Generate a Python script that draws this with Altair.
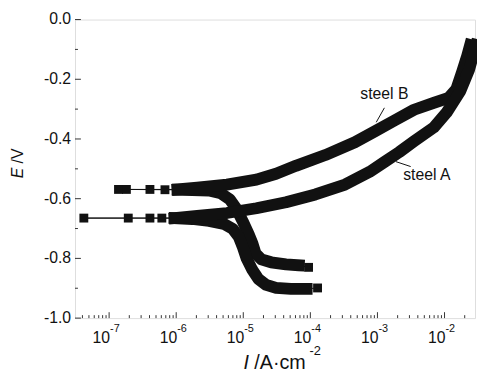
import altair as alt
import pandas as pd

# ---------------- data ----------------
# steel B, in sweep order: cathodic end square, cathodic band, Ecorr squares, anodic band
b_I = [9.41e-5,
       6.71e-5, 4.33e-5, 2.60e-5, 1.86e-5, 1.52e-5, 1.37e-5, 1.20e-5, 9.77e-6, 7.97e-6, 6.29e-6, 4.64e-6, 3.09e-6, 1.74e-6, 1.05e-6,
       6.8e-7, 1.81e-7, 1.38e-7, 4.06e-7,
       1.05e-6, 2.06e-6, 5.69e-6, 1.57e-5, 3.08e-5, 6.07e-5, 1.67e-4, 4.61e-4, 9.06e-4, 1.78e-3, 3.51e-3, 6.89e-3, 1.15e-2, 1.50e-2, 1.84e-2, 2.18e-2, 2.41e-2]
b_E = [-0.830,
       -0.823, -0.820, -0.813, -0.803, -0.783, -0.750, -0.718, -0.675, -0.635, -0.602, -0.582, -0.5725, -0.571, -0.570,
       -0.570, -0.569, -0.569, -0.569,
       -0.569, -0.5626, -0.5527, -0.5363, -0.5165, -0.490, -0.4539, -0.411, -0.3748, -0.3385, -0.3022, -0.2792, -0.2627, -0.233, -0.1737, -0.121, -0.085]
b_seg = ["s"] + ["c"] * 14 + ["s"] * 4 + ["a"] * 17

# steel A
a_I = [1.28e-4,
       8.80e-5, 5.12e-5, 3.08e-5, 2.20e-5, 1.68e-5, 1.37e-5, 1.12e-5, 9.77e-6, 8.53e-6, 6.97e-6, 5.14e-6, 3.09e-6, 1.74e-6, 9.47e-7,
       6.11e-7, 1.93e-7, 4.2e-8, 4.06e-7,
       9.47e-7, 2.06e-6, 5.69e-6, 1.57e-5, 4.33e-5, 1.19e-4, 3.29e-4, 7.66e-4, 1.27e-3, 2.11e-3, 3.51e-3, 6.89e-3, 1.07e-2, 1.72e-2, 2.33e-2, 2.95e-2]
a_E = [-0.899,
       -0.902, -0.902, -0.899, -0.889, -0.869, -0.839, -0.800, -0.760, -0.727, -0.701, -0.6846, -0.6747, -0.668, -0.665,
       -0.665, -0.665, -0.665, -0.665,
       -0.665, -0.658, -0.648, -0.632, -0.612, -0.5857, -0.5527, -0.510, -0.477, -0.444, -0.4077, -0.3616, -0.312, -0.2396, -0.167, -0.085]
a_seg = ["s"] + ["c"] * 14 + ["s"] * 4 + ["a"] * 16

# axis ticks and tick labels
x_major = [1e-7, 1e-6, 1e-5, 1e-4, 1e-3, 1e-2]
x_exp = ["-7", "-6", "-5", "-4", "-3", "-2"]
x_minor = [4e-8, 5e-8, 6e-8, 7e-8, 8e-8, 9e-8,
           2e-7, 3e-7, 4e-7, 5e-7, 6e-7, 7e-7, 8e-7, 9e-7,
           2e-6, 3e-6, 4e-6, 5e-6, 6e-6, 7e-6, 8e-6, 9e-6,
           2e-5, 3e-5, 4e-5, 5e-5, 6e-5, 7e-5, 8e-5, 9e-5,
           2e-4, 3e-4, 4e-4, 5e-4, 6e-4, 7e-4, 8e-4, 9e-4,
           2e-3, 3e-3, 4e-3, 5e-3, 6e-3, 7e-3, 8e-3, 9e-3,
           2e-2]
y_major = [0.0, -0.2, -0.4, -0.6, -0.8, -1.0]
y_labels = ["0.0", "-0.2", "-0.4", "-0.6", "-0.8", "-1.0"]
y_minor = [-0.1, -0.3, -0.5, -0.7, -0.9]

# annotations
lab_text = ["steel B", "steel A"]
lab_I = [1.27e-3, 5.45e-3]
lab_E = [-0.266, -0.536]
lead_I1 = [1.27e-3, 1.89e-3]
lead_E1 = [-0.2957, -0.476]
lead_I2 = [9.6e-4, 3.13e-3]
lead_E2 = [-0.344, -0.4924]

# ---------------- build ----------------
rows = []
for name, I, E, S in (("steel B", b_I, b_E, b_seg), ("steel A", a_I, a_E, a_seg)):
    for k, (i, e, s) in enumerate(zip(I, E, S)):
        rows.append({"series": name, "idx": k, "I": i, "E": e, "seg": s, "grp": name + s})
df = pd.DataFrame(rows)

W, H = 406, 303
FONT = "Liberation Sans"
INK = "#111111"
TICK = "#333333"
xs = alt.Scale(type="log", domain=[3.1e-8, 2.85e-2], nice=False)
ys = alt.Scale(domain=[-1.0, 0.0], nice=False)


def X(f):
    return alt.X(f, type="quantitative", scale=xs, axis=None)


def Y(f):
    return alt.Y(f, type="quantitative", scale=ys, axis=None)


base = alt.Chart(df)

thin = base.mark_line(color=INK, strokeWidth=1).encode(
    x=X("I"), y=Y("E"), detail="series:N", order="idx:Q")

thick = base.transform_filter("datum.seg != 's'").mark_line(
    color=INK, strokeWidth=12, strokeCap="square", strokeJoin="round").encode(
    x=X("I"), y=Y("E"), detail="grp:N", order="idx:Q")

squares = base.transform_filter("datum.seg == 's'").mark_square(
    size=81, color=INK, opacity=1, filled=True).encode(x=X("I"), y=Y("E"))

# ticks (inward), drawn through the scales
xmaj_df = pd.DataFrame({"v": x_major, "exp": x_exp, "base": ["10"] * len(x_major)})
xmin_df = pd.DataFrame({"v": x_minor})
ymaj_df = pd.DataFrame({"v": y_major, "lab": y_labels})
ymin_df = pd.DataFrame({"v": y_minor})

xt_major = alt.Chart(xmaj_df).mark_rule(color=TICK, strokeWidth=1).encode(
    x=X("v"), y=alt.value(H), y2=alt.value(H - 6))
xt_minor = alt.Chart(xmin_df).mark_rule(color=TICK, strokeWidth=1).encode(
    x=X("v"), y=alt.value(H), y2=alt.value(H - 3))
yt_major = alt.Chart(ymaj_df).mark_rule(color=TICK, strokeWidth=1).encode(
    y=Y("v"), x=alt.value(0), x2=alt.value(6))
yt_minor = alt.Chart(ymin_df).mark_rule(color=TICK, strokeWidth=1).encode(
    y=Y("v"), x=alt.value(0), x2=alt.value(3))

tl_base = alt.Chart(xmaj_df).mark_text(align="right", baseline="alphabetic", font=FONT,
                                       fontSize=16, color=INK, dx=1).encode(
    x=X("v"), y=alt.value(H + 25), text="base:N")
tl_exp = alt.Chart(xmaj_df).mark_text(align="left", baseline="alphabetic", font=FONT,
                                      fontSize=11, color=INK, dx=1).encode(
    x=X("v"), y=alt.value(H + 14), text="exp:N")
yl = alt.Chart(ymaj_df).mark_text(align="right", baseline="middle", font=FONT,
                                  fontSize=16, color=INK, dx=-4).encode(
    y=Y("v"), x=alt.value(0), text="lab:N")

lab_df = pd.DataFrame({"t": lab_text, "I": lab_I, "E": lab_E})
labels = alt.Chart(lab_df).mark_text(align="center", baseline="alphabetic", font=FONT,
                                     fontSize=16, color=INK).encode(
    x=X("I"), y=Y("E"), text="t:N")
lead_df = pd.DataFrame({"I1": lead_I1, "E1": lead_E1, "I2": lead_I2, "E2": lead_E2})
leads = alt.Chart(lead_df).mark_rule(color=INK, strokeWidth=1).encode(
    x=X("I1"), y=Y("E1"), x2="I2:Q", y2="E2:Q")

# axis titles
ttl = pd.DataFrame({"k": [0]})
yt_E = alt.Chart(ttl).mark_text(text="E", angle=270, align="left", baseline="alphabetic",
                                font=FONT, fontSize=16, fontStyle="italic", color=INK).encode(
    x=alt.value(-53), y=alt.value(161))
yt_V = alt.Chart(ttl).mark_text(text="/V", angle=270, align="left", baseline="alphabetic",
                                font=FONT, fontSize=16, color=INK).encode(
    x=alt.value(-53), y=alt.value(146))
xt_I = alt.Chart(ttl).mark_text(text="I", align="left", baseline="alphabetic",
                                font=FONT, fontSize=20, fontStyle="italic", color=INK).encode(
    x=alt.value(171), y=alt.value(H + 52))
xt_u = alt.Chart(ttl).mark_text(text="/A·cm", align="left", baseline="alphabetic",
                                font=FONT, fontSize=20, color=INK).encode(
    x=alt.value(182), y=alt.value(H + 52))
xt_e = alt.Chart(ttl).mark_text(text="-2", align="left", baseline="alphabetic",
                                font=FONT, fontSize=13, color=INK).encode(
    x=alt.value(238), y=alt.value(H + 37))

chart = alt.layer(thin, thick, squares, xt_major, xt_minor, yt_major, yt_minor,
                  tl_base, tl_exp, yl, leads, labels,
                  yt_E, yt_V, xt_I, xt_u, xt_e).properties(
    width=W, height=H,
    autosize=alt.AutoSizeParams(type="none"),
    padding={"left": 68, "top": 9, "right": 2, "bottom": 54},
).configure_view(stroke="#333", strokeWidth=1).configure(background="white")

chart.save("out.html", embed_options={"renderer": "svg", "actions": False})
